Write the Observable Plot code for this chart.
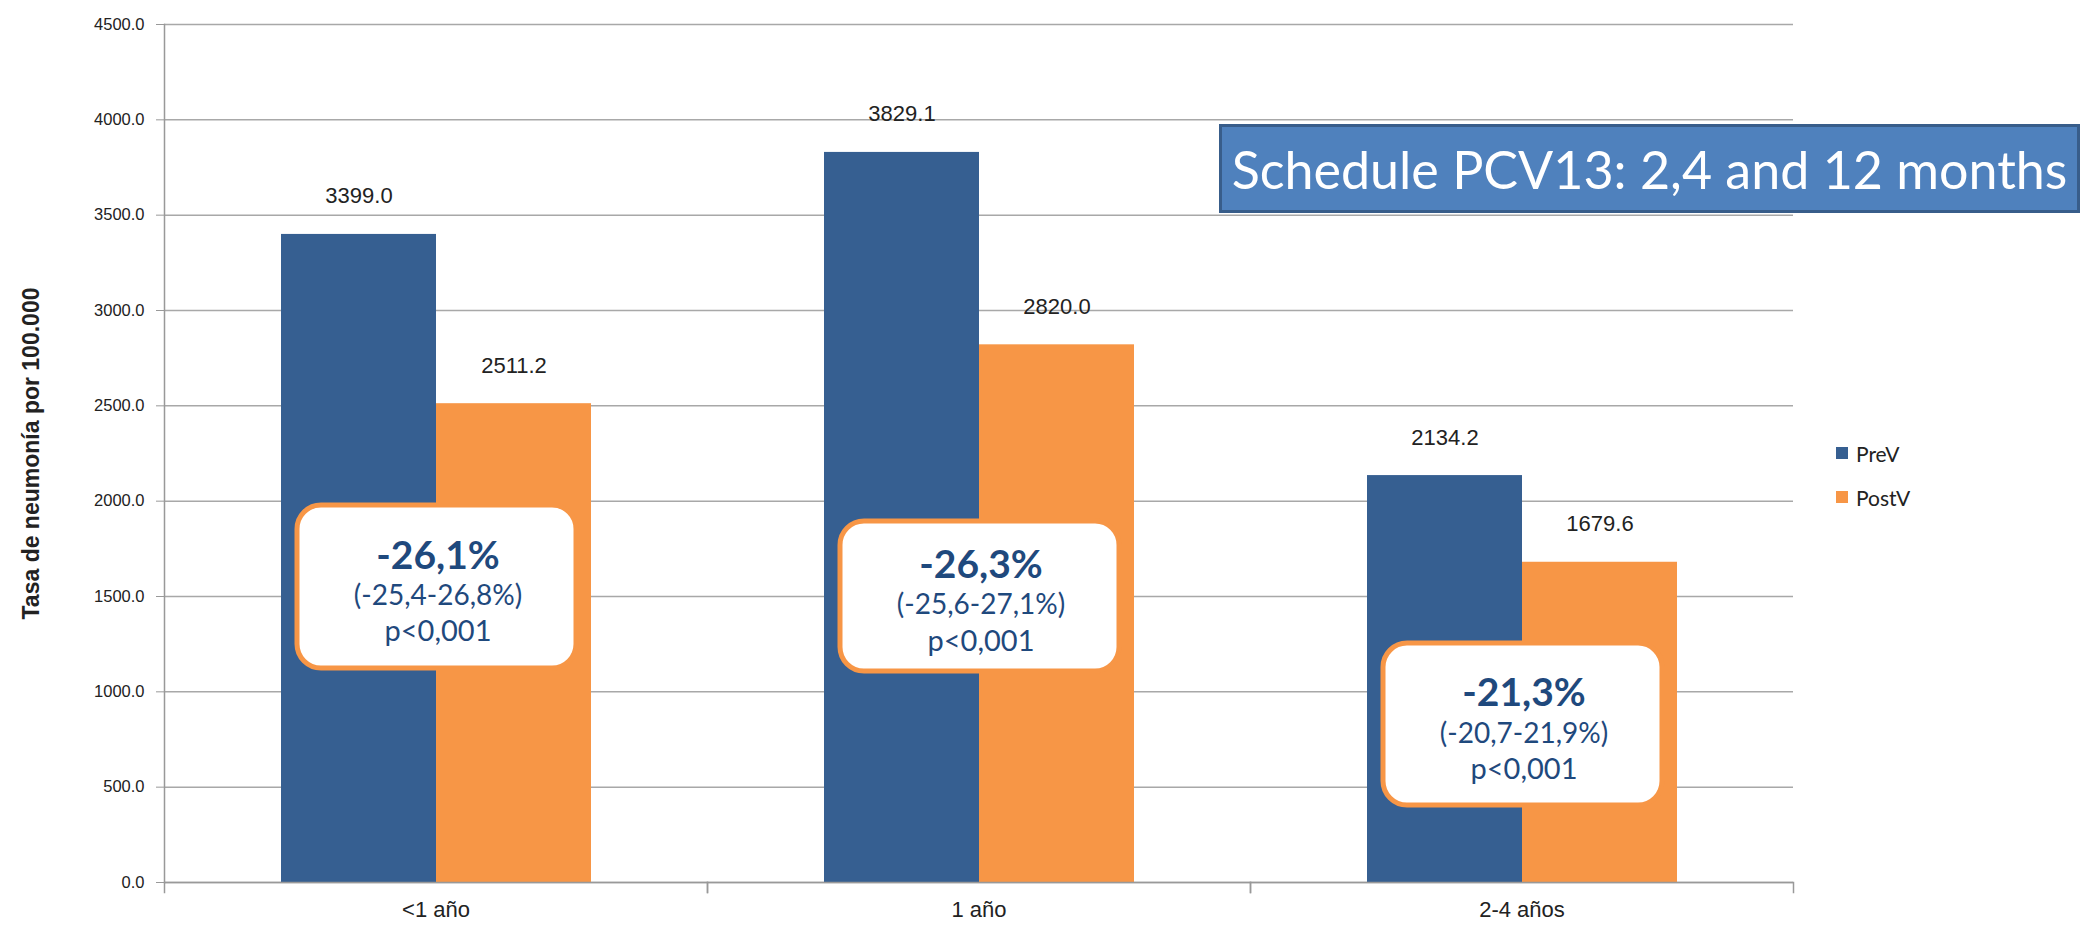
<!DOCTYPE html>
<html>
<head>
<meta charset="utf-8">
<script src="https://cdn.jsdelivr.net/npm/d3@7"></script>
<script src="https://cdn.jsdelivr.net/npm/@observablehq/plot@0.6"></script>
<style>
  html, body { margin: 0; padding: 0; background: #ffffff; }
  #wrap { position: relative; width: 2085px; height: 926px; overflow: hidden; }
  #chart svg { display: block; }
  #chart g[aria-label="y-axis label"] text { font-weight: bold; font-size: 23px; }
  #title {
    position: absolute; left: 1219px; top: 124px; width: 855px; height: 83px;
    background: #4F81BD; border: 3px solid #385D8A;
    color: #ffffff; font-family: Lato, "Open Sans", sans-serif; font-size: 52px;
    display: flex; align-items: center; justify-content: center; white-space: nowrap;
  }
  #legend {
    position: absolute; left: 1836px; top: 440px;
    font-family: Lato, "Liberation Sans", sans-serif; font-size: 21px; color: #222;
  }
  #legend .row { display: flex; align-items: center; height: 26px; margin-bottom: 18px; }
  #legend .sw { width: 12px; height: 12px; margin-right: 8px; }
</style>
</head>
<body>
<div id="wrap">
  <div id="chart"></div>
  <div id="title">Schedule PCV13: 2,4 and 12 months</div>
  <div id="legend"></div>
</div>
<script>
// ---- data ----
const categories = ["<1 año", "1 año", "2-4 años"];
const series = ["PreV", "PostV"];
const preV = [3399.0, 3829.1, 2134.2];
const postV = [2511.2, 2820.0, 1679.6];
const changePct = ["-26,1%", "-26,3%", "-21,3%"];
const changeCI = ["(-25,4-26,8%)", "(-25,6-27,1%)", "(-20,7-21,9%)"];
const pValue = ["p<0,001", "p<0,001", "p<0,001"];
const yTicks = [0, 500, 1000, 1500, 2000, 2500, 3000, 3500, 4000, 4500];
const yLabel = "Tasa de neumonía por 100.000";

// annotation box placement (in y-value units)
const boxTop = [1977, 1893, 1253];
const boxBottom = [1122, 1107, 404];

const colors = {PreV: "#365F91", PostV: "#F79646"};

const bars = [];
categories.forEach((c, i) => {
  bars.push({cat: c, series: "PreV", value: preV[i]});
  bars.push({cat: c, series: "PostV", value: postV[i]});
});
const notes = categories.map((c, i) => ({
  cat: c, pct: changePct[i], ci: changeCI[i], p: pValue[i],
  lo: boxBottom[i], hi: boxTop[i], mid: (boxTop[i] + boxBottom[i]) / 2
}));

const W = 2085, H = 926;
const mTop = 24, mBottom = 44, mLeft = 164, mRight = 292;
const frameH = H - mTop - mBottom;
const noteColor = "#1F497D";
const noteFont = "Lato, 'Open Sans', sans-serif";

const plot = Plot.plot({
  width: W,
  height: H,
  marginTop: mTop,
  marginBottom: mBottom,
  marginLeft: mLeft,
  marginRight: mRight,
  style: {fontFamily: "'Liberation Sans', Arial, sans-serif", background: "transparent"},
  fx: {domain: categories, padding: 0, label: null},
  x: {domain: series, paddingInner: 0, paddingOuter: 0.75, axis: null},
  y: {domain: [0, 4500], label: null},
  color: {domain: series, range: series.map(s => colors[s])},
  marks: [
    Plot.gridY(yTicks, {stroke: "#a8a8a8", strokeOpacity: 1, strokeWidth: 1.5}),
    Plot.axisY({ticks: yTicks, tickFormat: d3.format(".1f"), tickSize: 8, tickPadding: 12,
      fontSize: 16.5, stroke: "#999", fill: "#222", label: yLabel, labelAnchor: "center",
      labelArrow: "none", labelOffset: 142}),
    Plot.barY(bars, {fx: "cat", x: "series", y: "value", fill: "series"}),
    Plot.ruleY([0], {stroke: "#999", strokeWidth: 1.5}),
    Plot.frame({anchor: "left", facetAnchor: "left", stroke: "#999", strokeWidth: 1.5}),
    Plot.frame({anchor: "left", insetTop: frameH, insetBottom: -10, stroke: "#999", strokeWidth: 1.5}),
    Plot.frame({anchor: "right", insetTop: frameH, insetBottom: -10, stroke: "#999", strokeWidth: 1.5}),
    Plot.text(bars, {fx: "cat", x: "series", y: "value", text: d => d3.format(".1f")(d.value),
      dy: -38, fontSize: 22, fill: "#222"}),
    Plot.axisFx({anchor: "bottom", tickSize: 0, tickPadding: 19, fontSize: 22, fill: "#222", label: null}),
    Plot.rect(notes, {fx: "cat", y1: "lo", y2: "hi", insetLeft: 133, insetRight: 131, rx: 24,
      fill: "white", stroke: "#F79646", strokeWidth: 5}),
    Plot.text(notes, {fx: "cat", y: "mid", text: "pct", dy: -31, dx: 2, fontSize: 39, fontWeight: "bold",
      fill: noteColor, fontFamily: noteFont}),
    Plot.text(notes, {fx: "cat", y: "mid", text: "ci", dy: 9, dx: 2, fontSize: 28,
      fill: noteColor, fontFamily: noteFont}),
    Plot.text(notes, {fx: "cat", y: "mid", text: "p", dy: 45, dx: 2, fontSize: 29,
      fill: noteColor, fontFamily: noteFont})
  ]
});
document.getElementById("chart").appendChild(plot);

// legend
const legend = document.getElementById("legend");
series.forEach(s => {
  const row = document.createElement("div");
  row.className = "row";
  const sw = document.createElement("div");
  sw.className = "sw";
  sw.style.background = plot.scale("color").apply(s);
  const t = document.createElement("span");
  t.textContent = s;
  row.appendChild(sw); row.appendChild(t);
  legend.appendChild(row);
});
</script>
</body>
</html>
